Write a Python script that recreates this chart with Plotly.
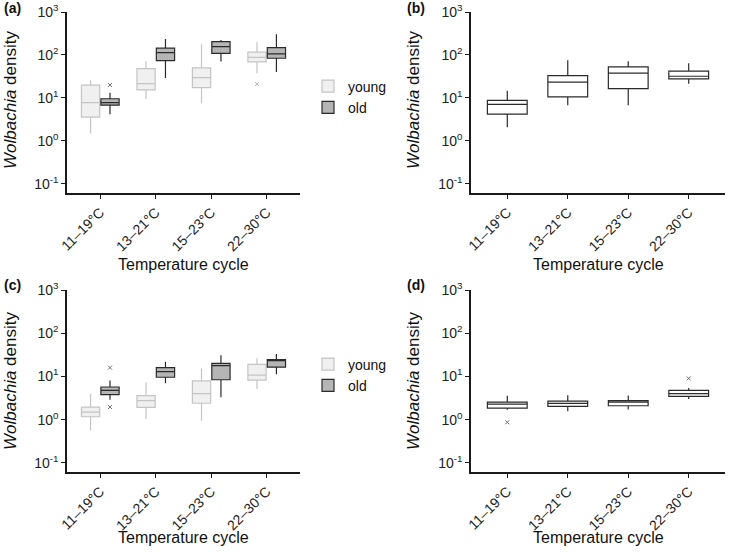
import plotly.graph_objects as go

W, H = 733, 552

# --- data ---
cycles = ["11–19°C", "13–21°C", "15–23°C", "22–30°C"]
ytick_vals = [0.1, 1, 10, 100, 1000]
ytick_text = ["10<sup>-1</sup>", "10<sup>0</sup>", "10<sup>1</sup>", "10<sup>2</sup>", "10<sup>3</sup>"]

# panel (a)
a_young_low = [1.5, 9.5, 7.5, 37.5]
a_young_q1 = [3.6, 15.4, 17.4, 69]
a_young_med = [7.8, 21.5, 29.6, 88]
a_young_q3 = [20, 48, 50, 116]
a_young_high = [26, 72, 178, 200]
a_young_out = [[], [], [], [21]]

a_old_low = [4.2, 29, 71, 40]
a_old_q1 = [6.8, 74, 109, 84]
a_old_med = [7.8, 113, 156, 106]
a_old_q3 = [9.6, 144, 204, 148]
a_old_high = [13.3, 235, 223, 302]
a_old_out = [[20], [], [], []]

# panel (b)
b_low = [2.1, 6.8, 6.8, 21.5]
b_q1 = [4.2, 10.6, 16.5, 27.7]
b_med = [7.1, 23.5, 38, 32]
b_q3 = [8.8, 33, 53, 42]
b_high = [14.8, 75, 72, 64]
b_out = [[], [], [], []]

# panel (c)
c_young_low = [0.56, 1.04, 0.95, 5.1]
c_young_q1 = [1.17, 1.93, 2.4, 8.2]
c_young_med = [1.5, 2.75, 4.0, 10.7]
c_young_q3 = [1.96, 3.6, 7.9, 19]
c_young_high = [4.0, 7.3, 15.3, 26.5]
c_young_out = [[], [], [], []]

c_old_low = [2.9, 7.0, 3.3, 11.3]
c_old_q1 = [3.8, 9.6, 8.4, 16.4]
c_old_med = [4.76, 13.0, 17.9, 23.8]
c_old_q3 = [5.7, 16, 20, 24.6]
c_old_high = [8.1, 21.8, 31, 33]
c_old_out = [[16, 1.96], [], [], []]

# panel (d)
d_low = [1.7, 1.56, 1.73, 3.0]
d_q1 = [1.86, 2.03, 2.1, 3.45]
d_med = [2.3, 2.38, 2.56, 4.0]
d_q3 = [2.56, 2.7, 2.75, 4.76]
d_high = [3.6, 3.7, 3.65, 5.4]
d_out = [[0.87], [], [], [9.0]]

FONT = "Liberation Sans, Arial, sans-serif"


def px(x):
    return x / W


def py(y):
    return 1 - y / H


def box(name, group, low, q1, med, q3, high, out, fill, line, ptcol, xa, ya, legend=None, show=False):
    # sample points per box: the median (inside the box, never drawn) plus the outliers
    pts = [[m] + list(o) for m, o in zip(med, out)]
    return go.Box(
        name=name, x=cycles, y=pts, q1=q1, median=med, q3=q3,
        lowerfence=low, upperfence=high, boxpoints="outliers",
        fillcolor=fill, line=dict(color=line, width=1.2), whiskerwidth=0,
        marker=dict(symbol="x-thin", size=4, color=ptcol, line=dict(width=1, color=ptcol)),
        jitter=0, pointpos=0, xaxis=xa, yaxis=ya,
        alignmentgroup=xa, offsetgroup=xa + group,
        showlegend=show, legend=legend, hoverinfo="y",
    )


YOUNG_FILL, YOUNG_LINE, YOUNG_PT = "#f0f0f0", "#c4c4c4", "#b0b0b0"
OLD_FILL, OLD_LINE, OLD_PT = "#b5b5b5", "#2a2a2a", "#707070"

traces = [
    box("young", "y", a_young_low, a_young_q1, a_young_med, a_young_q3, a_young_high, a_young_out,
        YOUNG_FILL, YOUNG_LINE, YOUNG_PT, "x", "y", "legend", True),
    box("old", "o", a_old_low, a_old_q1, a_old_med, a_old_q3, a_old_high, a_old_out,
        OLD_FILL, OLD_LINE, OLD_PT, "x", "y", "legend", True),
    box("all", "a", b_low, b_q1, b_med, b_q3, b_high, b_out,
        "white", "#2a2a2a", OLD_PT, "x2", "y2"),
    box("young", "y", c_young_low, c_young_q1, c_young_med, c_young_q3, c_young_high, c_young_out,
        YOUNG_FILL, YOUNG_LINE, YOUNG_PT, "x3", "y3", "legend2", True),
    box("old", "o", c_old_low, c_old_q1, c_old_med, c_old_q3, c_old_high, c_old_out,
        OLD_FILL, OLD_LINE, OLD_PT, "x3", "y3", "legend2", True),
    box("all", "a", d_low, d_q1, d_med, d_q3, d_high, d_out,
        "white", "#2a2a2a", OLD_PT, "x4", "y4"),
]

fig = go.Figure(data=traces)

xdom_l = [px(67), px(300)]
xdom_r = [px(471), px(725)]
ydom_t = [py(193), py(12)]
ydom_b = [py(472), py(290)]

xax = dict(type="category", range=[-0.6, 3.6], showline=True, linecolor="#1a1a1a", linewidth=1.5,
           ticks="outside", ticklen=4, tickcolor="#1a1a1a", tickangle=-45, showgrid=False,
           zeroline=False, tickfont=dict(size=14, color="#222", family=FONT), categoryorder="array",
           categoryarray=cycles, automargin=False)
yax = dict(type="log", range=[-1.21, 3.0], showline=True, linecolor="#1a1a1a", linewidth=1.5,
           ticks="outside", ticklen=4, tickcolor="#1a1a1a", tickvals=ytick_vals, ticktext=ytick_text,
           showgrid=False, zeroline=False, tickfont=dict(size=14, color="#222", family=FONT),
           automargin=False)

fig.update_layout(
    width=W, height=H, margin=dict(l=0, r=0, t=0, b=0, autoexpand=False),
    paper_bgcolor="white", plot_bgcolor="white",
    font=dict(family=FONT, color="#111"),
    boxmode="group", boxgap=0.3, boxgroupgap=0.06,
    xaxis=dict(xax, domain=xdom_l, anchor="y"),
    yaxis=dict(yax, domain=ydom_t, anchor="x"),
    xaxis2=dict(xax, domain=xdom_r, anchor="y2"),
    yaxis2=dict(yax, domain=ydom_t, anchor="x2"),
    xaxis3=dict(xax, domain=xdom_l, anchor="y3"),
    yaxis3=dict(yax, domain=ydom_b, anchor="x3"),
    xaxis4=dict(xax, domain=xdom_r, anchor="y4"),
    yaxis4=dict(yax, domain=ydom_b, anchor="x4"),
    legend=dict(x=px(308), y=py(97), xanchor="left", yanchor="middle", bgcolor="rgba(0,0,0,0)",
                font=dict(size=14, family=FONT), tracegroupgap=0, itemwidth=30),
    legend2=dict(x=px(308), y=py(375), xanchor="left", yanchor="middle", bgcolor="rgba(0,0,0,0)",
                 font=dict(size=14, family=FONT), tracegroupgap=0, itemwidth=30),
)

ytitle = "<i>Wolbachia</i> density"
xtitle = "Temperature cycle"
anns = []
for lab, lx, ly, tx, ty, yx, yy in [
    ("(a)", 2, 8, 183, 264, 10, 100),
    ("(b)", 405, 8, 598, 264, 413, 100),
    ("(c)", 2, 285, 183, 537, 10, 381),
    ("(d)", 405, 285, 598, 537, 413, 381),
]:
    anns.append(dict(text="<b>%s</b>" % lab, x=px(lx), y=py(ly), xref="paper", yref="paper",
                     xanchor="left", yanchor="middle", showarrow=False, font=dict(size=14)))
    anns.append(dict(text=xtitle, x=px(tx), y=py(ty), xref="paper", yref="paper",
                     xanchor="center", yanchor="middle", showarrow=False, font=dict(size=16)))
    anns.append(dict(text=ytitle, x=px(yx), y=py(yy), xref="paper", yref="paper", textangle=-90,
                     xanchor="center", yanchor="middle", showarrow=False, font=dict(size=17)))
fig.update_layout(annotations=anns)

fig.write_html("out.html", config={"displayModeBar": False},
               post_script="document.body.style.margin='0';")
